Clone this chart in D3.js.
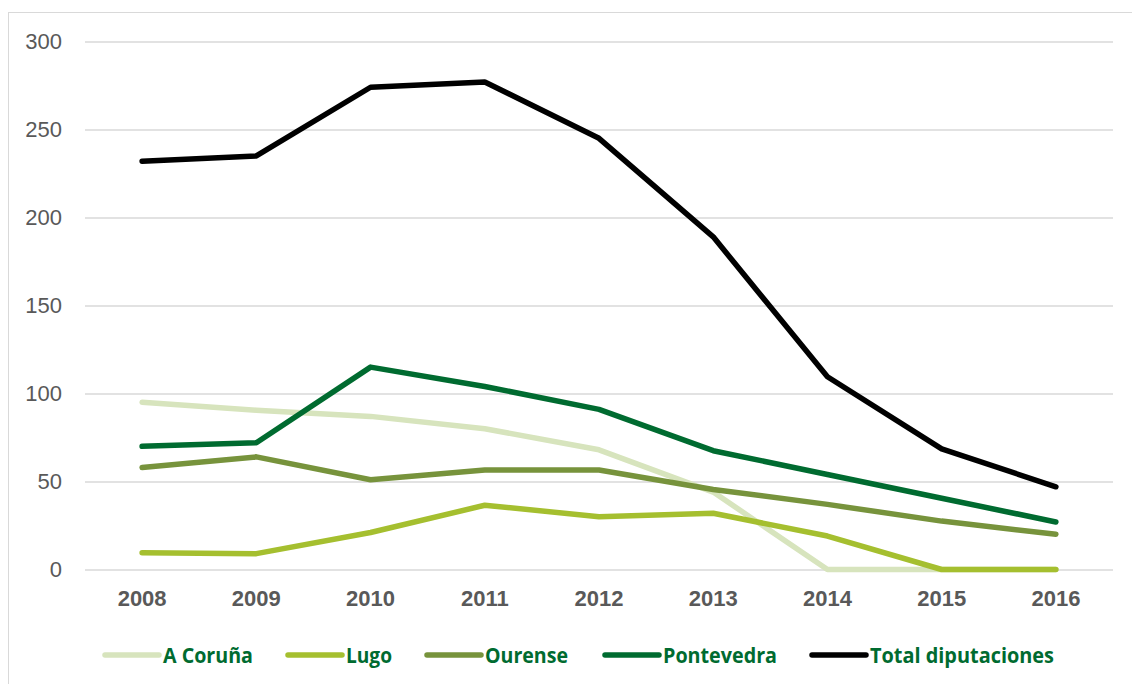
<!DOCTYPE html>
<html>
<head>
<meta charset="utf-8">
<script src="https://cdn.jsdelivr.net/npm/d3@7"></script>
<style>
  body { margin: 0; background: #fff; }
  svg { display: block; font-family: "Open Sans", "Noto Sans", sans-serif; }
</style>
</head>
<body>
<div class="chart-container"></div>
<script>
//! CONSTS
const WIDTH = 1132
const HEIGHT = 684
const MARGIN = { top: 41.5, right: 19, bottom: 114.5, left: 85 }

//! DATA
const years = ['2008', '2009', '2010', '2011', '2012', '2013', '2014', '2015', '2016']
const yTicks = [0, 50, 100, 150, 200, 250, 300]
const seriesNames = ['A Coruña', 'Lugo', 'Ourense', 'Pontevedra', 'Total diputaciones']
const seriesColors = ['#d7e4bd', '#a5bf2f', '#77933c', '#006b30', '#000000']
const aCoruna = [95, 90.5, 87, 80, 68, 44, 0, 0, 0]
const lugo = [9.5, 9, 21, 36.5, 30, 32, 19, 0, 0]
const ourense = [58, 64, 51, 56.5, 56.5, 45.5, 37, 27.5, 20]
const pontevedra = [70, 72, 115, 104, 91, 67.5, 54, 40.5, 27]
const total = [232, 235, 274, 277, 245, 189, 109.5, 68.5, 47]
const seriesValues = [aCoruna, lugo, ourense, pontevedra, total]

//! SVG
const svg = d3.select('.chart-container')
  .append('svg')
  .attr('width', WIDTH)
  .attr('height', HEIGHT)

// chart border
svg.append('rect')
  .attr('x', 8.5).attr('y', 12.5)
  .attr('width', WIDTH + 10).attr('height', HEIGHT + 10)
  .attr('fill', 'none')
  .attr('stroke', '#d9d9d9')

// scales
const x = d3.scaleBand()
  .domain(years)
  .range([MARGIN.left, WIDTH - MARGIN.right])

const y = d3.scaleLinear()
  .domain([0, 300])
  .range([HEIGHT - MARGIN.bottom, MARGIN.top])

// gridlines + y labels
const yAxis = d3.axisLeft(y)
  .tickValues(yTicks)
  .tickSize(-(WIDTH - MARGIN.left - MARGIN.right))
  .tickPadding(23)

svg.append('g')
  .attr('transform', `translate(${MARGIN.left},0)`)
  .call(yAxis)
  .call(g => g.select('.domain').remove())
  .call(g => g.selectAll('line').attr('stroke', '#d9d9d9').attr('stroke-width', 1.5))
  .call(g => g.selectAll('text')
    .attr('fill', '#595959')
    .style('font-size', '22px'))

// x labels
const xAxis = d3.axisBottom(x).tickSize(0).tickPadding(21)
svg.append('g')
  .attr('transform', `translate(0,${y(0)})`)
  .call(xAxis)
  .call(g => g.select('.domain').remove())
  .call(g => g.selectAll('text')
    .attr('fill', '#595959')
    .style('font-size', '22px')
    .style('font-weight', 'bold'))

// lines
const line = d3.line()
  .x((d, i) => x(years[i]) + x.bandwidth() / 2)
  .y(d => y(d))

svg.append('g')
  .selectAll('path')
  .data(seriesValues)
  .enter()
  .append('path')
  .attr('d', line)
  .attr('fill', 'none')
  .attr('stroke', (d, i) => seriesColors[i])
  .attr('stroke-width', 5.5)
  .attr('stroke-linecap', 'round')
  .attr('stroke-linejoin', 'round')

// legend
const legendX = [105, 288, 427, 605, 812]
const legendW = [90, 46, 83, 114, 184]
const legend = svg.append('g').attr('class', 'legend')
  .selectAll('g')
  .data(seriesNames)
  .enter()
  .append('g')
  .attr('transform', (d, i) => `translate(${legendX[i]},655)`)

legend.append('line')
  .attr('x1', 0).attr('x2', 54)
  .attr('stroke', (d, i) => seriesColors[i])
  .attr('stroke-width', 5.5)
  .attr('stroke-linecap', 'round')

legend.append('text')
  .attr('x', 58)
  .attr('dy', '0.35em')
  .attr('fill', '#006b30')
  .attr('textLength', (d, i) => legendW[i])
  .attr('lengthAdjust', 'spacingAndGlyphs')
  .style('font-size', '22px')
  .style('font-weight', 'bold')
  .text(d => d)
</script>
</body>
</html>
